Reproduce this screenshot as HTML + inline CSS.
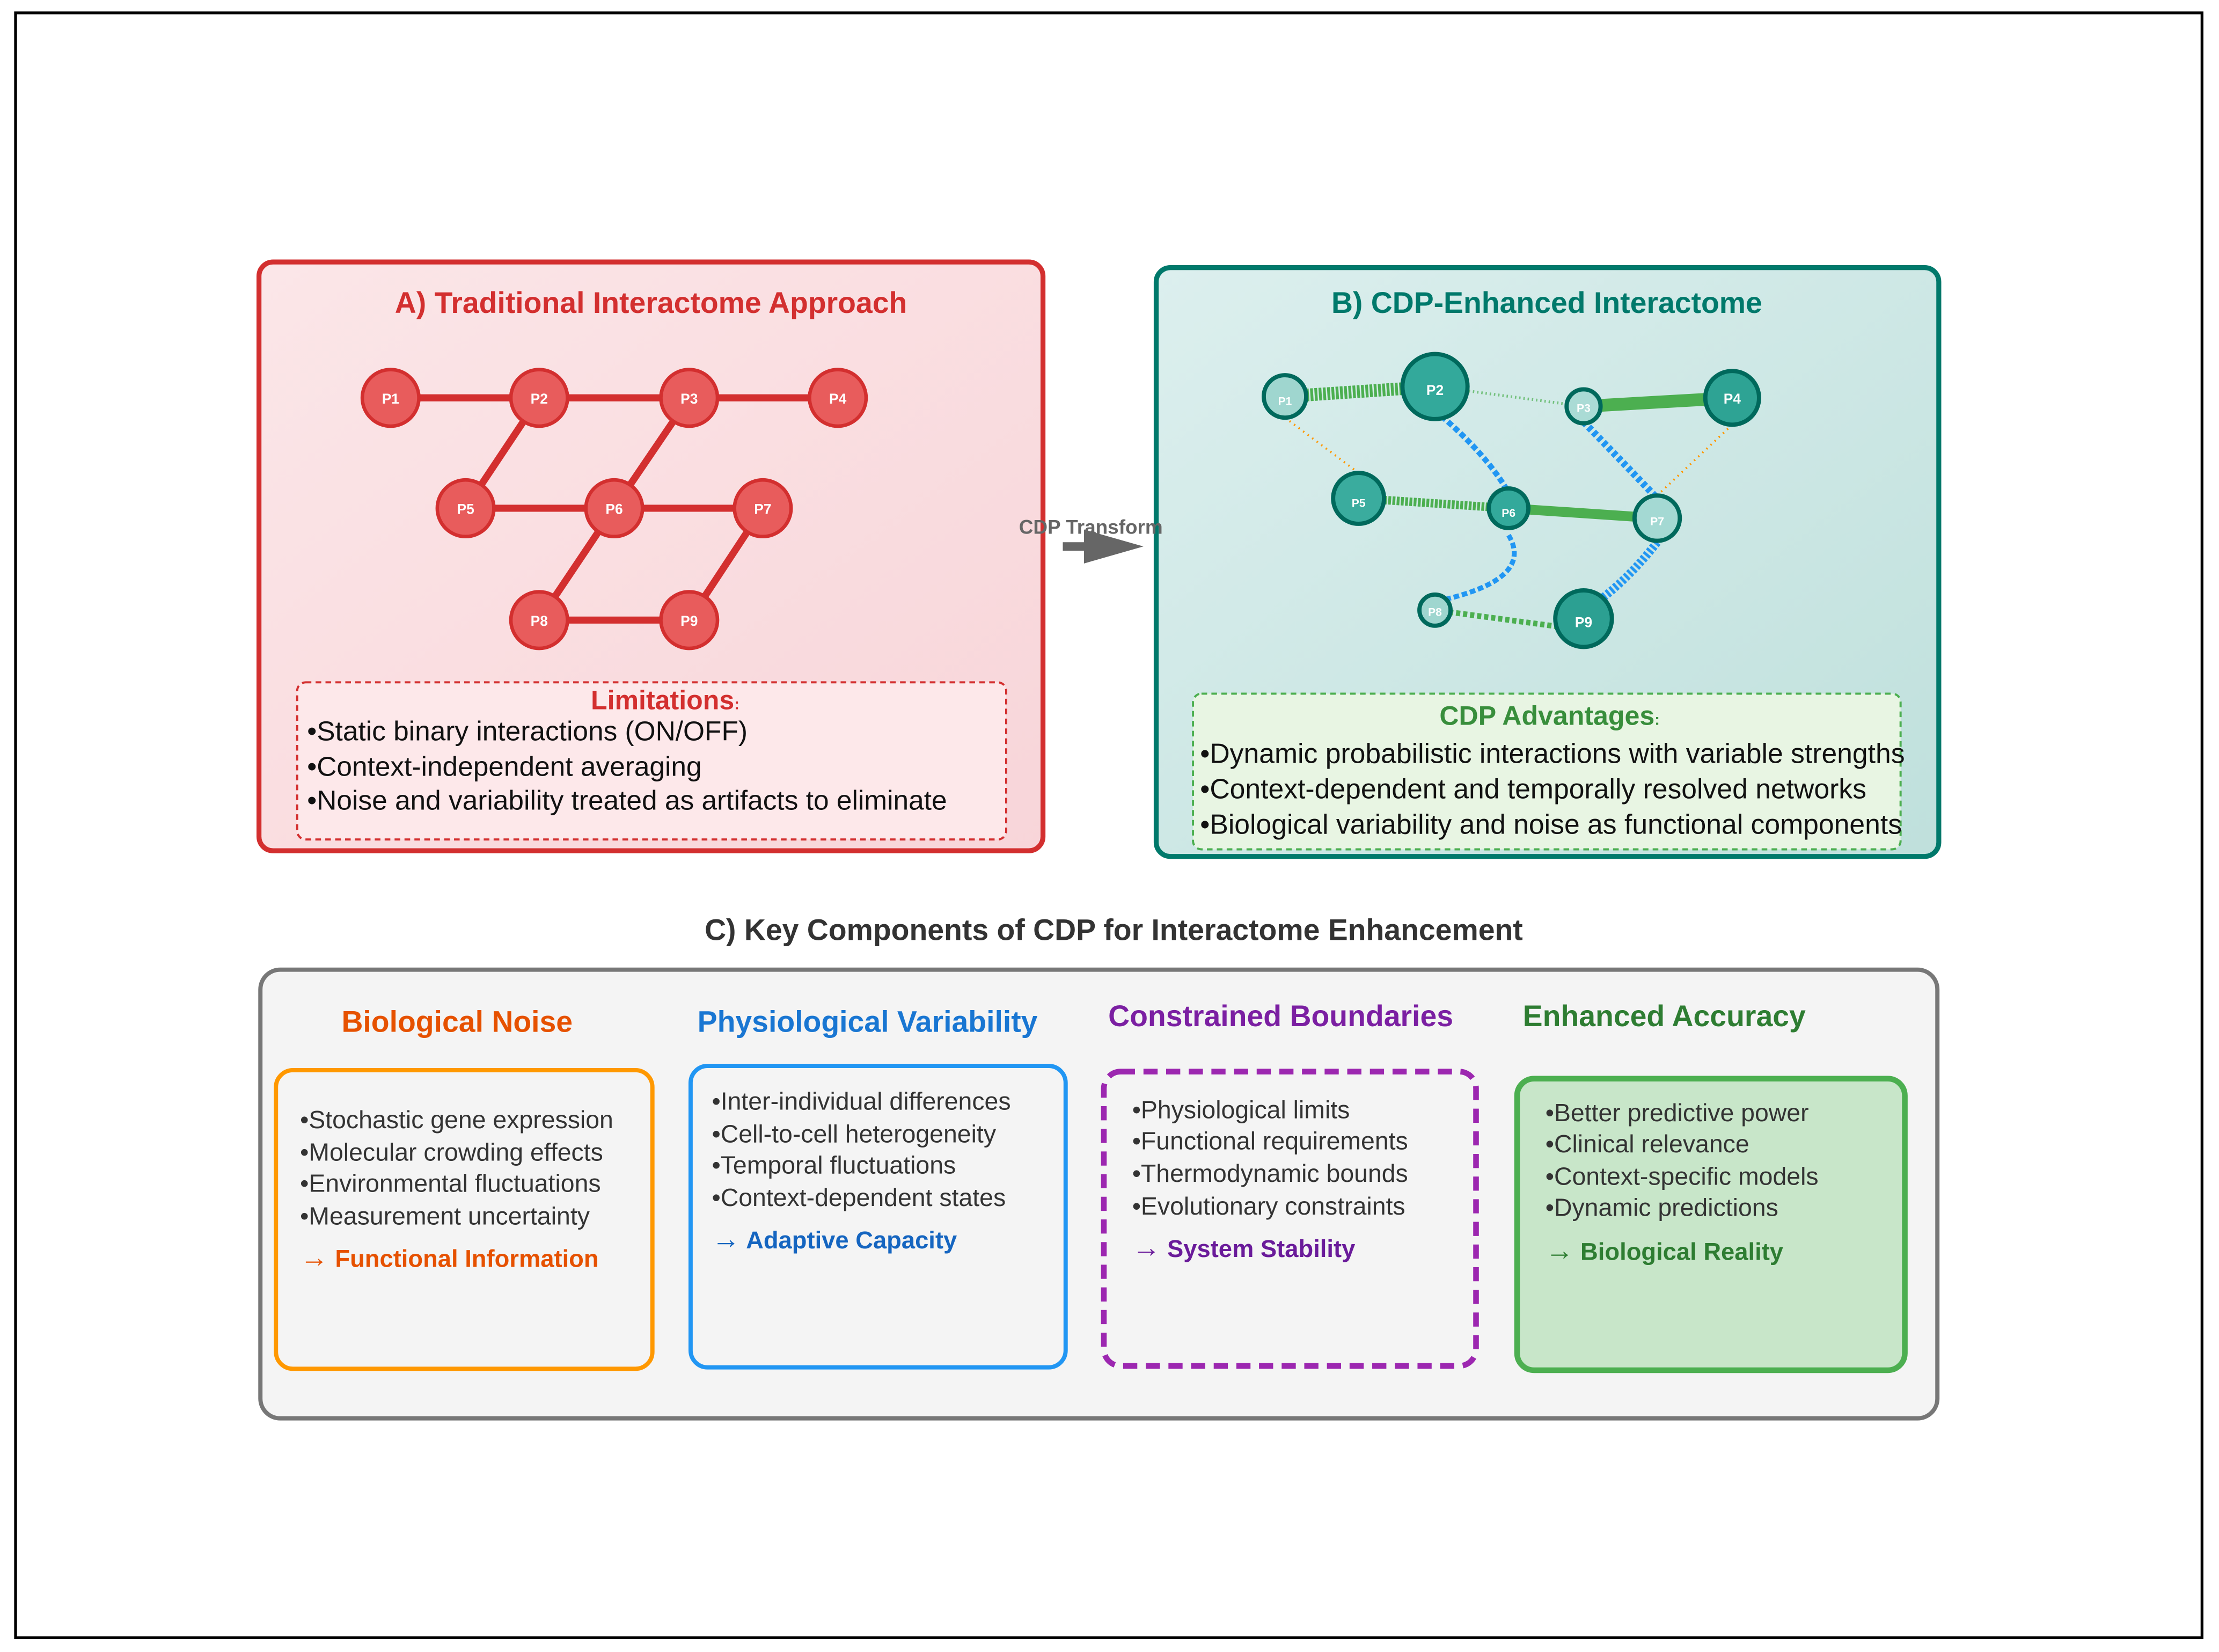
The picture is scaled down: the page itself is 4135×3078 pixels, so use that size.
<!DOCTYPE html>
<html><head><meta charset="utf-8"><style>html,body{margin:0;padding:0;background:#fff}svg{display:block}text{font-family:"Liberation Sans",Arial,sans-serif}</style></head>
<body>
<svg width="4135" height="3078" viewBox="0 0 1568 1167" xmlns="http://www.w3.org/2000/svg">
<defs>
<linearGradient id="ga" x1="0" y1="0" x2="1" y2="1"><stop offset="0" stop-color="#fbe6e8"/><stop offset="1" stop-color="#f8d5d9"/></linearGradient>
<linearGradient id="gb" x1="0" y1="0" x2="1" y2="1"><stop offset="0" stop-color="#dcefee"/><stop offset="1" stop-color="#bfe0dc"/></linearGradient>
</defs>
<rect x="0" y="0" width="1568" height="1167" fill="#fff"/>
<rect x="11" y="9" width="1545" height="1148" fill="none" stroke="#000" stroke-width="2"/>

<!-- Panel A -->
<rect x="183" y="185" width="554" height="416" rx="10" fill="url(#ga)" stroke="#d32f2f" stroke-width="3.5"/>
<text x="460" y="221" text-anchor="middle" font-size="21" font-weight="bold" fill="#d32f2f">A) Traditional Interactome Approach</text>
<g stroke="#d32f2f" stroke-width="5" fill="none">
<line x1="276" y1="281" x2="592" y2="281"/>
<line x1="329" y1="359" x2="539" y2="359"/>
<line x1="381" y1="438" x2="487" y2="438"/>
<line x1="381" y1="281" x2="329" y2="359"/>
<line x1="487" y1="281" x2="434" y2="359"/>
<line x1="434" y1="359" x2="381" y2="438"/>
<line x1="539" y1="359" x2="487" y2="438"/>
</g>
<g fill="#e85c5c" stroke="#d32f2f" stroke-width="2.5">
<circle cx="276" cy="281" r="20"/><circle cx="381" cy="281" r="20"/><circle cx="487" cy="281" r="20"/><circle cx="592" cy="281" r="20"/>
<circle cx="329" cy="359" r="20"/><circle cx="434" cy="359" r="20"/><circle cx="539" cy="359" r="20"/>
<circle cx="381" cy="438" r="20"/><circle cx="487" cy="438" r="20"/>
</g>
<g font-size="10" font-weight="bold" fill="#fff" text-anchor="middle">
<text x="276" y="285">P1</text><text x="381" y="285">P2</text><text x="487" y="285">P3</text><text x="592" y="285">P4</text>
<text x="329" y="363">P5</text><text x="434" y="363">P6</text><text x="539" y="363">P7</text>
<text x="381" y="442">P8</text><text x="487" y="442">P9</text>
</g>
<rect x="210" y="482" width="501" height="111" rx="6" fill="#fde8ea" stroke="#d32f2f" stroke-width="1.5" stroke-dasharray="4 3"/>
<text x="470" y="501" text-anchor="middle" font-size="19" font-weight="bold" fill="#d32f2f">Limitations<tspan font-size="11">:</tspan></text>
<g font-size="19.5" fill="#111">
<text x="217" y="523">•Static binary interactions (ON/OFF)</text>
<text x="217" y="548">•Context-independent averaging</text>
<text x="217" y="572">•Noise and variability treated as artifacts to eliminate</text>
</g>

<!-- Panel B -->
<rect x="817" y="189" width="553" height="416" rx="10" fill="url(#gb)" stroke="#00796b" stroke-width="3.5"/>
<text x="1093" y="221" text-anchor="middle" font-size="21" font-weight="bold" fill="#00796b">B) CDP-Enhanced Interactome</text>

<!-- Arrow -->
<line x1="751" y1="386" x2="770" y2="386" stroke="#666" stroke-width="6"/>
<path d="M766,374 L808,386 L766,398z" fill="#666"/>
<text x="720" y="377" font-size="14" font-weight="bold" fill="#666">CDP Transform</text>

<g fill="none">
<line x1="908" y1="280" x2="1014" y2="273" stroke="#4caf50" stroke-width="9" stroke-dasharray="2 1"/>
<line x1="1014" y1="273" x2="1119" y2="287" stroke="#4caf50" stroke-width="2" stroke-dasharray="1 2" opacity="0.7"/>
<line x1="1119" y1="287" x2="1224" y2="281" stroke="#4caf50" stroke-width="9"/>
<line x1="960" y1="352" x2="1066" y2="359" stroke="#4caf50" stroke-width="6" stroke-dasharray="2 1"/>
<line x1="1066" y1="359" x2="1171" y2="366" stroke="#4caf50" stroke-width="7"/>
<line x1="1014" y1="431" x2="1119" y2="445" stroke="#4caf50" stroke-width="4" stroke-dasharray="3 2"/>
<path d="M1014,290 Q1050,320 1066,348" stroke="#2196f3" stroke-width="4" stroke-dasharray="4 2"/>
<path d="M1119,298 Q1150,330 1171,352" stroke="#2196f3" stroke-width="5" stroke-dasharray="3 2"/>
<path d="M1066,378 Q1085,410 1014,425" stroke="#2196f3" stroke-width="3.5" stroke-dasharray="4 2"/>
<path d="M1171,383 Q1150,410 1125,428" stroke="#2196f3" stroke-width="6" stroke-dasharray="2 1.5"/>
<line x1="908" y1="295" x2="960" y2="334" stroke="#ff9800" stroke-width="1.5" stroke-dasharray="1 3"/>
<line x1="1224" y1="300" x2="1171" y2="350" stroke="#ff9800" stroke-width="1.5" stroke-dasharray="1 3"/>
</g>
<g stroke="#00695c" stroke-width="3">
<circle cx="908" cy="280" r="15" fill="#9fd6cf"/>
<circle cx="1014" cy="273" r="23" fill="#33a99b"/>
<circle cx="1119" cy="287" r="12" fill="#aadbd5"/>
<circle cx="1224" cy="281" r="19" fill="#2ea394"/>
<circle cx="960" cy="352" r="18" fill="#3aac9e"/>
<circle cx="1066" cy="359" r="14" fill="#33a99b"/>
<circle cx="1171" cy="366" r="16" fill="#a4d9d3"/>
<circle cx="1014" cy="431" r="11" fill="#9fd6cf"/>
<circle cx="1119" cy="437" r="20" fill="#2ca092"/>
</g>
<g font-weight="bold" fill="#fff" text-anchor="middle">
<text x="908" y="286" font-size="8">P1</text><text x="1014" y="279" font-size="10">P2</text><text x="1119" y="291" font-size="8">P3</text><text x="1224" y="285" font-size="10">P4</text>
<text x="960" y="358" font-size="8">P5</text><text x="1066" y="365" font-size="8">P6</text><text x="1171" y="371" font-size="8">P7</text>
<text x="1014" y="435" font-size="8">P8</text><text x="1119" y="443" font-size="10">P9</text>
</g>
<rect x="843" y="490" width="500" height="110" rx="6" fill="#e8f5e3" stroke="#4caf50" stroke-width="1.5" stroke-dasharray="4 3"/>
<text x="1095" y="512" text-anchor="middle" font-size="19" font-weight="bold" fill="#388e3c">CDP Advantages<tspan font-size="11">:</tspan></text>
<g font-size="19.6" fill="#111">
<text x="848" y="539">•Dynamic probabilistic interactions with variable strengths</text>
<text x="848" y="564">•Context-dependent and temporally resolved networks</text>
<text x="848" y="589">•Biological variability and noise as functional components</text>
</g>

<!-- Section C -->
<text x="787" y="664" text-anchor="middle" font-size="21" font-weight="bold" fill="#333">C) Key Components of CDP for Interactome Enhancement</text>
<rect x="184" y="685" width="1185" height="317" rx="14" fill="#f4f4f4" stroke="#777" stroke-width="3"/>

<g font-size="21" font-weight="bold" text-anchor="middle">
<text x="323" y="729" fill="#e65100">Biological Noise</text>
<text x="613" y="729" fill="#1976d2">Physiological Variability</text>
<text x="905" y="725" fill="#7b1fa2">Constrained Boundaries</text>
<text x="1176" y="725" fill="#2e7d32">Enhanced Accuracy</text>
</g>
<rect x="195" y="756" width="266" height="211" rx="12" fill="#f4f4f4" stroke="#ff9800" stroke-width="3"/>
<rect x="488" y="753" width="265" height="213" rx="12" fill="#f4f4f4" stroke="#2196f3" stroke-width="3"/>
<rect x="780" y="757" width="263" height="208" rx="12" fill="#f4f4f4" stroke="#9c27b0" stroke-width="4" stroke-dasharray="10 6"/>
<rect x="1072" y="762" width="274" height="206" rx="12" fill="#c8e6c9" stroke="#4caf50" stroke-width="4"/>

<g font-size="17.6" fill="#333">
<text x="212" y="797">•Stochastic gene expression</text>
<text x="212" y="820">•Molecular crowding effects</text>
<text x="212" y="842">•Environmental fluctuations</text>
<text x="212" y="865">•Measurement uncertainty</text>
<text x="503" y="784">•Inter-individual differences</text>
<text x="503" y="807">•Cell-to-cell heterogeneity</text>
<text x="503" y="829">•Temporal fluctuations</text>
<text x="503" y="852">•Context-dependent states</text>
<text x="800" y="790">•Physiological limits</text>
<text x="800" y="812">•Functional requirements</text>
<text x="800" y="835">•Thermodynamic bounds</text>
<text x="800" y="858">•Evolutionary constraints</text>
<text x="1092" y="792">•Better predictive power</text>
<text x="1092" y="814">•Clinical relevance</text>
<text x="1092" y="837">•Context-specific models</text>
<text x="1092" y="859">•Dynamic predictions</text>
</g>
<g font-size="17.2" font-weight="bold">
<text x="212" y="895" fill="#e65100"><tspan font-weight="normal" font-size="20">→</tspan> Functional Information</text>
<text x="503" y="882" fill="#1565c0"><tspan font-weight="normal" font-size="20">→</tspan> Adaptive Capacity</text>
<text x="800" y="888" fill="#6a1b9a"><tspan font-weight="normal" font-size="20">→</tspan> System Stability</text>
<text x="1092" y="890" fill="#2e7d32"><tspan font-weight="normal" font-size="20">→</tspan> Biological Reality</text>
</g>
</svg>
</body></html>
